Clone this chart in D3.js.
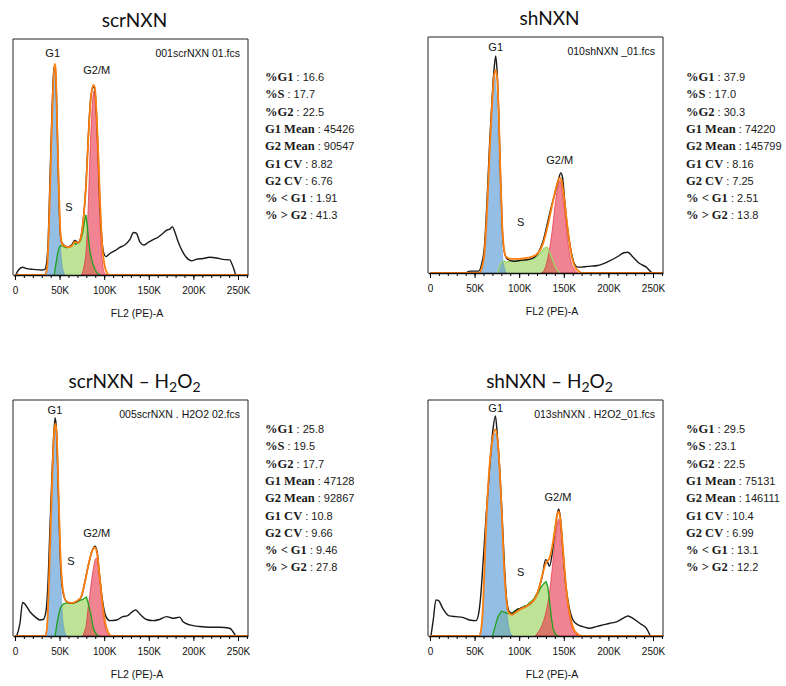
<!DOCTYPE html>
<html>
<head>
<meta charset="utf-8">
<script src="https://cdn.jsdelivr.net/npm/d3@7"></script>
<style>
  body { margin: 0; background: #fff; }
  svg { display: block; }
</style>
</head>
<body>
<svg id="chart" width="786" height="686"></svg>
<script>
// ---- data (x in K units of FL2 (PE)-A, y as % of plot height) ----

var statLabels = ["%G1", "%S", "%G2", "G1 Mean", "G2 Mean", "G1 CV", "G2 CV", "% < G1", "% > G2"];
var tickValues = [0, 50, 100, 150, 200, 250];
var tickLabels = ["0", "50K", "100K", "150K", "200K", "250K"];
var titles = [["scrNXN"], ["shNXN"], ["scrNXN \u2013 H", "2", "O", "2"], ["shNXN \u2013 H", "2", "O", "2"]];
var fileNames = ["001scrNXN 01.fcs", "010shNXN _01.fcs", "005scrNXN . H2O2 02.fcs", "013shNXN . H2O2_01.fcs"];

// scrNXN
var scrTotal = [[1,0],[3.7,2],[8.6,3.3],[13,2.7],[20.5,2.4],[30,2.1],[33.6,2.4],[35.4,5],[37.3,15],[39,37.5],[41,63],[43,84],[44.4,88.7],[46,83],[47.4,63],[49,37.5],[50.4,20.5],[52.2,14],[56,12.3],[59.7,11.7],[63.4,12.7],[67,14.6],[71,13.7],[73.5,15.5],[76.5,23],[79.5,37.5],[82,57],[84.7,74],[87.7,79.6],[89.5,78.5],[91.4,68.6],[93.3,51.6],[95,32],[97,17.7],[99,10],[102,7.8],[106,9],[112,10.3],[117.5,11.7],[123,12.7],[128.7,15],[133,18],[136,17.7],[140,14],[144.4,12.7],[149,13.7],[155,15],[160.4,16],[166,17.7],[170,19],[173.5,19.4],[176.5,20.5],[179,18.4],[183,14],[187.7,10],[192,7.5],[198,6],[203,6.6],[211,7],[218,7.5],[226,7.2],[233,6.6],[240.7,6.4],[243.7,4.2],[247.4,0]];
var scrFit = [[0,0],[34,0],[36,3],[38,20],[40,45],[42,72],[44.3,89.5],[45.5,88],[47,68],[49,38],[51,18],[53,13],[56,12.3],[60,11.7],[64,12.5],[67,14],[71,13.7],[74,16],[77,25],[80,40],[82.5,60],[85,75],[88,80.5],[89.5,79.5],[91.5,68],[93.5,50],[95.5,30],[97.5,14],[100,5],[103,1],[106,0],[261,0]];
var scrG1 = [[32,0],[34,1],[36,5],[38,18],[39.5,35],[41,58],[42.5,78],[44.3,88],[46,80],[47.5,60],[49,36],[50.5,18],[52,7],[54,2],[56,0]];
var scrS = [[44,0],[46,5],[48,9.5],[50,12],[52,12.5],[55,12],[58,11.5],[61,12],[64,12.5],[66,14],[68,13],[70,13.5],[72,14],[74,15],[76,18],[78,23],[79.5,25.5],[81,21],[82.5,15],[84.5,9],[87,5],[90,2],[93,0.5],[96,0]];
var scrG2 = [[74,0],[77,3],[80,12],[82,28],[84,50],[86,68],[88.5,78],[90.5,70],[92.5,52],[94.5,30],[96.5,13],[98.5,4],[101,0.5],[104,0]];
var scrStats = ["16.6", "17.7", "22.5", "45426", "90547", "8.82", "6.76", "1.91", "41.3"];

// shNXN
var shTotal = [[40,0],[45,0.8],[54.5,0.8],[58,4],[61,11],[64,31],[67,56],[69.5,73],[72,87],[73.7,92],[75,87],[77,69],[79,42],[81,19.5],[83,9.6],[86.5,6],[94,5],[101.5,5.4],[109,5.6],[116.5,6.5],[122,9],[127,13.8],[131.6,21],[135,26.5],[140,33.6],[143.6,39],[146.6,42.4],[148.5,40.7],[151,30.8],[154,19.5],[158,9.6],[161.7,4],[165.4,2.5],[169,2.5],[176.7,2.8],[188,3.2],[199,4.7],[210.5,7],[217.3,8.6],[221.8,8.8],[227.4,6.8],[235,4],[242.5,2.5],[248,0.4],[250,0]];
var shFit = [[0,0],[55,0],[58,2],[61,8],[64,27],[67,52],[70,74],[72,84],[73.7,86],[75.5,82],[77,68],[79,42],[81,20],[83,10],[85,7],[90,6],[100,6],[110,6.5],[118,7.5],[124,10],[128,14],[132,20],[136,27],[140,34],[143.5,39],[145.5,40.4],[147.5,39],[150,33],[153,23],[156,14],[159,7],[162,3],[166,1],[170,0],[261,0]];
var shG1 = [[56,0],[59,2],[62,9],[64.5,28],[67,52],[69.5,74],[72,85],[74.5,76],[77,52],[79,28],[81,10],[83,3],[86,0]];
var shS = [[76,0],[78,3],[80,4.5],[83,5],[86,4.5],[90,5],[100,5.2],[110,5.5],[118,6.5],[124,8.5],[128,10.5],[131,11],[134,9],[137,6],[140,3],[143,1],[146,0]];
var shG2 = [[125,0],[129,2],[133,8],[137,18],[141,31],[145.5,39],[149,33],[152,22],[155,12],[158,5],[162,1.5],[166,0]];
var shStats = ["37.9", "17.0", "30.3", "74220", "145799", "8.16", "7.25", "2.51", "13.8"];

// scrNXN - H2O2
var scrHTotal = [[1.9,0],[5.6,5.4],[8.6,14.2],[11,13.6],[16.8,10.3],[22.4,8.2],[28,6.8],[31.7,7],[34.7,10.3],[37.3,25],[39,43.6],[41,63.5],[43,82],[45,92.5],[46.6,86.8],[48.5,63.5],[50.4,38],[52.2,23.8],[54.9,16.7],[57.8,14.6],[63.4,13.9],[71,15],[74.6,16.7],[78.4,23],[82,29.5],[85.8,35.4],[89.6,38],[92,35.8],[95,25],[98,15.3],[102,8.2],[106.3,6.5],[114,6.8],[121,8.2],[125.7,8.5],[130.6,10],[135.4,11],[140,9.3],[147.4,7],[155,6.5],[162,7],[170,8.2],[177,7.5],[184.7,8],[188.4,6],[196,4.7],[207,4],[218,3.7],[229.5,3.7],[240.7,3.3],[244.4,1.8],[247.4,0]];
var scrHFit = [[0,0],[34,0],[36,4],[38,22],[40,46],[42,70],[44,87],[45.5,90],[47,84],[49,58],[51,34],[53,22],[55,17],[58,14.5],[63,14],[70,15],[74,16.5],[78,22],[82,29.5],[86,35.5],[89.5,37.5],[92,35],[95,25],[98,14],[101,6],[104,2],[108,0],[261,0]];
var scrHG1 = [[33,0],[35,2],[37,8],[39,24],[41,48],[43,76],[45,91],[47,78],[49,52],[51,27],[53,10],[55,3],[57,0.5],[59,0]];
var scrHS = [[45,0],[47,5],[49,9],[51,12],[54,13.5],[58,14],[63,13.8],[68,14.2],[72,15],[76,15.5],[78,16],[80.2,16.5],[82,14],[84,11],[86,7],[88,3],[91,0.8],[94,0]];
var scrHG2 = [[76,0],[78,2],[80,5],[82,12],[84,18],[86,24],[88,29],[90,32.5],[91.5,33],[93.5,30],[96,21],[98.5,11],[101,4],[104,1],[107,0]];
var scrHStats = ["25.8", "19.5", "17.7", "47128", "92867", "10.8", "9.66", "9.46", "27.8"];

// shNXN - H2O2
var shHTotal = [[1.1,0],[3.7,6.8],[6.7,15.3],[9.7,15],[14.2,11.8],[21.7,8.5],[29.2,8.2],[36.7,7.9],[44.2,6.8],[51.6,6.5],[54.6,9.6],[56.5,15.3],[59,28],[62.9,50.7],[66.7,70.5],[70.4,86.8],[73.4,93.2],[75.3,86],[78,72],[80.9,50.7],[83.5,29.5],[86,15.3],[89,10.3],[93,9.6],[96.6,11],[102,11.8],[108,12.7],[113.5,14],[118.4,16.4],[122.8,21],[125.8,25.2],[129.6,32.3],[131.5,31.6],[134,29.5],[137,35],[139.7,43.6],[142.3,50.7],[144.2,53.8],[146,50.7],[149,36.5],[152,22.4],[155.8,12.5],[160.3,6.8],[166,4.7],[171.4,4],[179,3.3],[186.4,4],[194,4.7],[201.5,5.4],[209,6],[216.3,7.5],[222,8.5],[227.5,7.5],[235,5.4],[242.5,3.3],[247,0]];
var shHFit = [[0,0],[55,0],[57,2],[59,10],[61,28],[63,48],[66,68],[69.5,82],[73.4,87.5],[76,82],[78.5,68],[81,48],[83,30],[85.5,16],[88,10],[92,9],[96,10],[102,11.5],[108,12.5],[113,14],[118,16],[122,20],[126,26],[130,31],[134,33],[137,38],[140,45],[142.3,51],[144.2,52.8],[146,50],[149,37],[152,23],[155,13],[158,7],[161,3],[165,1],[170,0],[261,0]];
var shHG1 = [[54,0],[57,2],[59,8],[61,22],[63.5,45],[66,65],[69.5,80],[73.4,86],[77,78],[80,58],[82.5,36],[85,17],[87.5,6],[90,1.5],[93,0]];
var shHS = [[70,0],[73,4],[76,8],[80,10.5],[84,10],[88,9.5],[92,9.5],[94,10.5],[96,10],[98,11.5],[100,11],[102,12],[104,11.8],[106,12.8],[108,12.5],[111,14],[113,14.5],[115,15.2],[117,16],[119,17.5],[121,18],[124,20.5],[127,22],[130,23],[132,21],[134,15],[136,8],[138,3],[141,0.5],[144,0]];
var shHG2 = [[118,0],[122,2],[126,5],[130,10],[133,16],[136,25],[139,36],[142,46],[144.2,49.5],[146.5,46],[149,36],[152,23],[155,12],[158,5.5],[161,2],[165,0.5],[168,0]];
var shHStats = ["29.5", "23.1", "22.5", "75131", "146111", "10.4", "6.99", "13.1", "12.2"];

// ---- layout ----
var W = 235, H = 236;
var panels = [
    { left: 13, top: 39, statsX: 265, statsY: 81, total: scrTotal, fit: scrFit, g1: scrG1, s: scrS, g2: scrG2, stats: scrStats,
      g1Lab: [42.3, 92.4], sLab: [60.5, 27], g2Lab: [91.6, 85], sLine: "#1fa31f" },
    { left: 428, top: 37, statsX: 686, statsY: 81, total: shTotal, fit: shFit, g1: shG1, s: shS, g2: shG2, stats: shStats,
      g1Lab: [73.7, 94], sLab: [101.6, 20], g2Lab: [145.4, 46], sLine: "#9fd36a" },
    { left: 13, top: 400, statsX: 265, statsY: 433, total: scrHTotal, fit: scrHFit, g1: scrHG1, s: scrHS, g2: scrHG2, stats: scrHStats,
      g1Lab: [44.8, 94], sLab: [62.8, 30], g2Lab: [91.6, 42], sLine: "#1fa31f" },
    { left: 428, top: 400, statsX: 686, statsY: 433, total: shHTotal, fit: shHFit, g1: shHG1, s: shHS, g2: shHG2, stats: shHStats,
      g1Lab: [73.7, 95], sLab: [101.6, 25.6], g2Lab: [143.5, 57], sLine: "#1fa31f" }
];

var svg = d3.select("#chart");

var x = d3.scaleLinear().domain([-2.2, 261.2]).range([0, W]);
var y = d3.scaleLinear().domain([0, 100]).range([H, 0]);

var area = d3.area()
    .x(function (d) { return x(d[0]); })
    .y0(H)
    .y1(function (d) { return y(d[1]); })
    .curve(d3.curveMonotoneX);
var roughArea = d3.area()
    .x(function (d) { return x(d[0]); })
    .y0(H)
    .y1(function (d) { return y(d[1]); });
var line = d3.line()
    .x(function (d) { return x(d[0]); })
    .y(function (d) { return y(d[1]); })
    .curve(d3.curveMonotoneX);
var rough = d3.line()
    .x(function (d) { return x(d[0]); })
    .y(function (d) { return y(d[1]); });

panels.forEach(function (p, i) {
    var g = svg.append("g").attr("transform", "translate(" + p.left + "," + p.top + ")");

    // title (with subscripts for H2O2)
    var t = g.append("text")
        .attr("x", W / 2 + 4)
        .attr("y", -12)
        .attr("text-anchor", "middle")
        .style("font-family", "Lato, 'Open Sans', sans-serif")
        .style("font-size", "19px")
        .attr("fill", "#111");
    titles[i].forEach(function (part, k) {
        var ts = t.append("tspan").text(part);
        if (k % 2 == 1) ts.attr("dy", 4).style("font-size", "14px");
        else if (k > 0) ts.attr("dy", -4);
    });

    g.append("clipPath").attr("id", "clip" + i)
        .append("rect").attr("width", W).attr("height", H);
    var plot = g.append("g").attr("clip-path", "url(#clip" + i + ")");

    // model components
    plot.append("path").datum(p.s).attr("d", roughArea)
        .attr("fill", "#92d050").attr("fill-opacity", 0.6);
    plot.append("path").datum(p.g1).attr("d", area)
        .attr("fill", "#5b9bd5").attr("fill-opacity", 0.65)
        .attr("stroke", "#4a86c5").attr("stroke-opacity", 0.5).attr("stroke-width", 0.8);
    plot.append("path").datum(p.g2).attr("d", area)
        .attr("fill", "#e8384f").attr("fill-opacity", 0.62)
        .attr("stroke", "#e02030").attr("stroke-opacity", 0.7).attr("stroke-width", 0.9);
    plot.append("path").datum(p.s).attr("d", rough)
        .attr("fill", "none").attr("stroke", p.sLine).attr("stroke-width", 1.3);

    // histogram and fit
    plot.append("path").datum(p.total).attr("d", line)
        .attr("fill", "none").attr("stroke", "#1a1a1a").attr("stroke-width", 1.4);
    plot.append("path").datum(p.fit).attr("d", line)
        .attr("fill", "none").attr("stroke", "#ff7f0e").attr("stroke-width", 1.8);

    // frame
    g.append("path")
        .attr("d", "M0," + H + "V0H" + W + "V" + H)
        .attr("fill", "none").attr("stroke", "#222").attr("stroke-width", 1);

    // x axis
    var minor = g.append("g").attr("transform", "translate(0," + H + ")")
        .call(d3.axisBottom(x).tickValues(d3.range(0, 261, 10)).tickSize(3).tickFormat("").tickSizeOuter(0));
    var ax = g.append("g").attr("transform", "translate(0," + H + ")")
        .call(d3.axisBottom(x).tickValues(tickValues).tickSize(5).tickPadding(7).tickSizeOuter(0)
            .tickFormat(function (d, k) { return tickLabels[k]; }));
    ax.select(".domain").attr("stroke", "#111").attr("stroke-width", 1.6);
    minor.select(".domain").remove();
    ax.selectAll("text").style("font-family", "'Liberation Sans', Arial, sans-serif").style("font-size", "10px").attr("fill", "#111");

    g.append("text")
        .attr("x", 124).attr("y", H + 42)
        .attr("text-anchor", "middle")
        .style("font-family", "'Liberation Sans', Arial, sans-serif").style("font-size", "10.5px")
        .attr("fill", "#111")
        .text("FL2 (PE)-A");

    // annotations
    var lab = function (pos, txt) {
        g.append("text")
            .attr("x", x(pos[0])).attr("y", y(pos[1]))
            .attr("text-anchor", "middle")
            .style("font-family", "'Liberation Sans', Arial, sans-serif").style("font-size", "11px")
            .attr("fill", "#111")
            .text(txt);
    };
    lab(p.g1Lab, "G1");
    lab(p.sLab, "S");
    lab(p.g2Lab, "G2/M");
    g.append("text")
        .attr("x", W - 8).attr("y", 18)
        .attr("text-anchor", "end")
        .style("font-family", "'Liberation Sans', Arial, sans-serif").style("font-size", "10.5px")
        .attr("fill", "#111")
        .text(fileNames[i]);

    // statistics block
    var st = svg.append("g").attr("transform", "translate(" + p.statsX + "," + p.statsY + ")");
    statLabels.forEach(function (name, k) {
        var tx = st.append("text").attr("y", k * 17.3).attr("fill", "#1a1a1a");
        tx.append("tspan").text(name)
            .style("font-family", "'Liberation Serif', 'Times New Roman', serif")
            .style("font-weight", "bold").style("font-size", "12.5px");
        tx.append("tspan").text(" : " + p.stats[k])
            .style("font-family", "'Liberation Sans', Arial, sans-serif")
            .style("font-size", "11px");
    });
});
</script>
</body>
</html>
